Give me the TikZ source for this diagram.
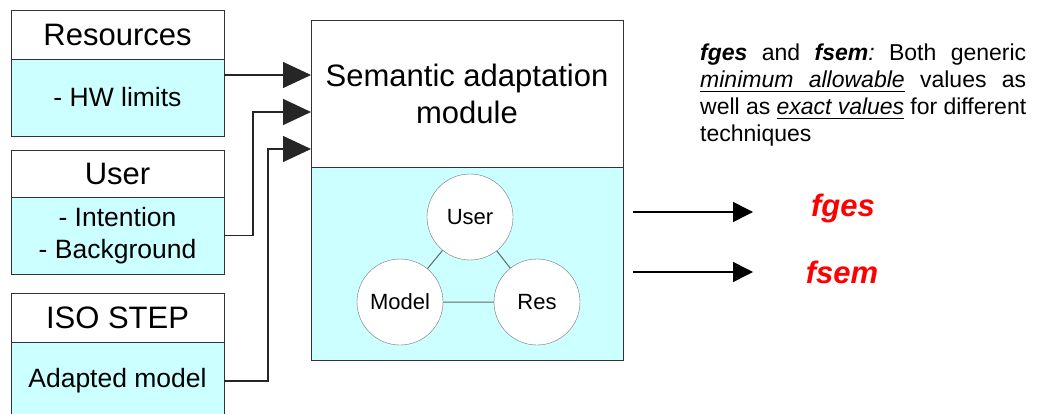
\documentclass[tikz,border=0pt]{standalone}
\usepackage{fontspec}
\setmainfont{Liberation Sans}
\usetikzlibrary{arrows.meta,positioning}
\definecolor{paleCyan}{RGB}{204,255,255}
% underlined word and underlined stretchable space
\newcommand\ulw[1]{\leavevmode\setbox0\hbox{#1}\rlap{\vrule height -3pt depth 4.3pt width \wd0}\box0}
\newcommand\ulsp{\leaders\vrule height -3pt depth 4.3pt\hskip\fontdimen2\font plus\fontdimen3\font minus\fontdimen4\font\relax}

\begin{document}
\begin{tikzpicture}[x=1pt,y=-1pt,
hdr/.style={draw=black!80,fill=white,minimum width=213pt,inner sep=0pt,outer sep=0pt,font=\fontsize{31}{36}\selectfont},
bdy/.style={draw=black!80,fill=paleCyan,minimum width=213pt,inner sep=0pt,outer sep=0pt,align=center,font=\fontsize{26.5}{32}\selectfont},
circ/.style={circle,draw=black!55,fill=white,minimum size=86pt,inner sep=0pt,font=\fontsize{22}{26}\selectfont},
inarr/.style={-{Triangle[length=28pt,width=26pt]},line width=1.2pt,draw=black!85},
outarr/.style={-{Triangle[length=20pt,width=20pt]},line width=1.5pt},
outlbl/.style={text=red,font=\fontsize{31}{35}\selectfont\bfseries\itshape}]
\useasboundingbox (0,0) rectangle (1044,414);
% input boxes
\node[hdr,minimum height=49pt](res) at (117.5,34.5){Resources};
\node[bdy,minimum height=77pt,below=0pt of res](resbody){- HW limits};
\node[hdr,minimum height=47pt](usr) at (117.5,173.5){User};
\node[bdy,minimum height=77pt,below=0pt of usr](usrbody){- Intention\\- Background};
\node[hdr,minimum height=49pt](iso) at (117.5,317.5){ISO STEP};
\node[bdy,minimum height=78pt,below=0pt of iso](isobody){Adapted model};
% module
\node[hdr,minimum width=312pt,minimum height=147pt,align=center,font=\fontsize{31}{37}\selectfont](sem) at (467,93.5){Semantic adaptation\\module};
\node[bdy,minimum width=312pt,minimum height=193pt,below=0pt of sem](sembody){};
\node[circ](cuser) at (470,217){User};
\node[circ](cmodel) at (400,302){Model};
\node[circ](cres) at (537,302){Res};
\draw[black!60,line width=1pt](cuser)--(cmodel) (cuser)--(cres) (cmodel)--(cres);
% inputs
\coordinate(in1) at (311,75);
\coordinate(in2) at (311,112);
\coordinate(in3) at (311,149);
\draw[inarr](resbody.east |- in1)--(in1);
\draw[inarr](usrbody.east)--++(29,0)|-(in2);
\draw[inarr](isobody.east)--++(44,0)|-(in3);
% outputs
\node[outlbl](fges) at (843,208){fges};
\node[outlbl](fsem) at (842,272){fsem};
\coordinate(o1) at (633,212);
\coordinate(o1e) at (753,212);
\coordinate(o2) at (633,272);
\coordinate(o2e) at (753,272);
\draw[outarr](o1)--(o1e);
\draw[outarr](o2)--(o2e);
\node[anchor=north west,inner sep=0pt,text width=326pt,align=justify,font=\fontsize{23}{27}\selectfont\frenchspacing](note) at (700,44){\textbf{\textit{fges}} and \textbf{\textit{fsem}}\textit{:} Both generic\linebreak {\itshape\ulw{minimum}\ulsp\ulw{allowable}} values as\linebreak well as {\itshape\ulw{exact}\ulsp\ulw{values}} for different\linebreak techniques};
\end{tikzpicture}
\end{document}
